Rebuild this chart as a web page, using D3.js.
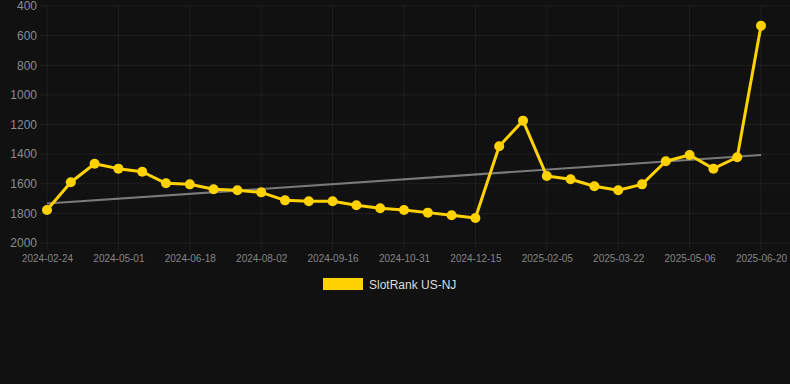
<!DOCTYPE html>
<html>
<head>
<meta charset="utf-8">
<script src="https://cdn.jsdelivr.net/npm/d3@7"></script>
<style>
html,body{margin:0;padding:0;background:#111111;}
svg{display:block;}
text{font-family:"Liberation Sans",Arial,Helvetica,sans-serif;}
</style>
</head>
<body>
<svg id="chart" width="790" height="384"></svg>
<script>
const dates = [
  "2024-02-24","2024-03-18","2024-04-09","2024-05-01","2024-05-17","2024-06-02",
  "2024-06-18","2024-07-03","2024-07-18","2024-08-02","2024-08-17","2024-09-01",
  "2024-09-16","2024-10-01","2024-10-16","2024-10-31","2024-11-15","2024-11-30",
  "2024-12-15","2024-12-31","2025-01-18","2025-02-05","2025-02-20","2025-03-07",
  "2025-03-22","2025-04-06","2025-04-21","2025-05-06","2025-05-21","2025-06-05",
  "2025-06-20"
];
const rankValues = [
  1777,1590,1465,1498,1519,1597,1604,1637,1644,1658,
  1712,1718,1718,1745,1766,1777,1795,1813,1831,1347,
  1174,1548,1570,1617,1644,1604,1448,1406,1498,1421,
  533
];
const xTickLabels = ["2024-02-24","2024-05-01","2024-06-18","2024-08-02","2024-09-16",
  "2024-10-31","2024-12-15","2025-02-05","2025-03-22","2025-05-06","2025-06-20"];
const yTicks = [400,600,800,1000,1200,1400,1600,1800,2000];
const seriesName = "SlotRank US-NJ";

const svg = d3.select("#chart");
const W = 790;
const x = d3.scalePoint().domain(dates).range([47, 761]);
const y = d3.scaleLinear().domain([400, 2000]).range([6, 243]);

// horizontal grid
svg.append("g").selectAll("line").data(yTicks).join("line")
  .attr("x1", 40).attr("x2", W)
  .attr("y1", d => y(d)).attr("y2", d => y(d))
  .attr("stroke", "rgba(255,255,255,0.06)").attr("stroke-width", 1);
// vertical grid
svg.append("g").selectAll("line").data(xTickLabels).join("line")
  .attr("x1", d => x(d)).attr("x2", d => x(d))
  .attr("y1", y(400)).attr("y2", y(2000) + 7)
  .attr("stroke", "rgba(255,255,255,0.06)").attr("stroke-width", 1);

// y axis labels
const yAxis = d3.axisLeft(y).tickValues(yTicks).tickSize(0).tickPadding(0).tickFormat(d3.format("d"));
const gy = svg.append("g").attr("transform", "translate(37,0)").call(yAxis);
gy.select(".domain").remove();
gy.selectAll("text").attr("fill", "#8c8c8c").style("font-size", "12px")
  .style("font-family", "'Liberation Sans',Arial,sans-serif");

// x axis labels
const xAxis = d3.axisBottom(x).tickValues(xTickLabels).tickSize(0).tickPadding(0);
const gx = svg.append("g").attr("transform", "translate(0,255)").call(xAxis);
gx.select(".domain").remove();
gx.selectAll("text").attr("fill", "#858585").style("font-size", "10px")
  .style("font-family", "'Liberation Sans',Arial,sans-serif");

// trend line (least squares)
const n = rankValues.length;
const idx = d3.range(n);
const mx = d3.mean(idx), my = d3.mean(rankValues);
const slope = d3.sum(idx, i => (i - mx) * (rankValues[i] - my)) / d3.sum(idx, i => (i - mx) ** 2);
const intercept = my - slope * mx;
svg.append("line")
  .attr("x1", x(dates[0])).attr("y1", y(intercept))
  .attr("x2", x(dates[n - 1])).attr("y2", y(intercept + slope * (n - 1)))
  .attr("stroke", "#7a7a7a").attr("stroke-width", 2);

// series line
const color = "#FFD200";
const line = d3.line().x((d, i) => x(dates[i])).y(d => y(d));
svg.append("path").datum(rankValues)
  .attr("d", line).attr("fill", "none")
  .attr("stroke", color).attr("stroke-width", 3).attr("stroke-linejoin", "round");
svg.append("g").selectAll("circle").data(rankValues).join("circle")
  .attr("cx", (d, i) => x(dates[i])).attr("cy", d => y(d))
  .attr("r", 5).attr("fill", color);

// legend
const lg = svg.append("g");
lg.append("rect").attr("x", 323).attr("y", 278).attr("width", 40).attr("height", 12).attr("fill", color);
lg.append("text").attr("x", 369).attr("y", 288.5).text(seriesName)
  .attr("fill", "#dddddd").style("font-size", "12px");
</script>
</body>
</html>
